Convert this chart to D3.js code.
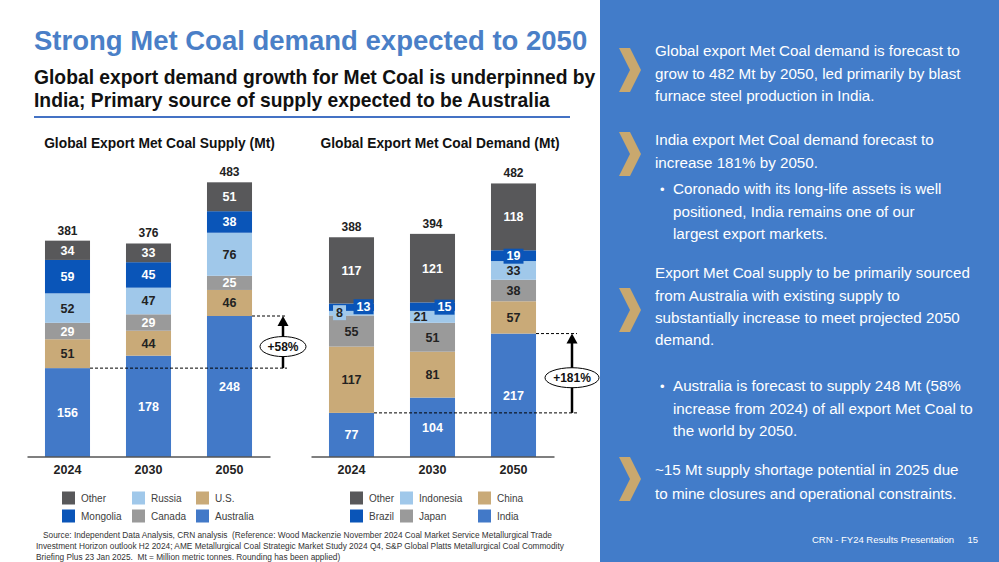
<!DOCTYPE html>
<html>
<head>
<meta charset="utf-8">
<script src="https://cdn.jsdelivr.net/npm/d3@7"></script>
<style>
  body { margin: 0; background: #fff; }
  text { font-family: "Liberation Sans", Arial, sans-serif; white-space: pre; }
</style>
</head>
<body>
<script>
// years on the x axis (both charts)
var years = ["2024", "2030", "2050"];

// supply stacks, bottom to top
var supplyKeys = ["Australia", "U.S.", "Canada", "Russia", "Mongolia", "Other"];
var supplyAustralia = [156, 178, 248];
var supplyUS = [51, 44, 46];
var supplyCanada = [29, 29, 25];
var supplyRussia = [52, 47, 76];
var supplyMongolia = [59, 45, 38];
var supplyOther = [34, 33, 51];
var supplyTotals = [381, 376, 483];

// demand stacks, bottom to top
var demandKeys = ["India", "China", "Japan", "Indonesia", "Brazil", "Other"];
var demandIndia = [77, 104, 217];
var demandChina = [117, 81, 57];
var demandJapan = [55, 51, 38];
var demandIndonesia = [8, 21, 33];
var demandBrazil = [13, 15, 19];
var demandOther = [117, 121, 118];
var demandTotals = [388, 394, 482];

var supplyGrowth = "+58%";
var demandGrowth = "+181%";

// same colour slot for both charts
var colors = ["#4279c8", "#c9aa78", "#9a9a9a", "#a0c8ea", "#0a55b8", "#58585a"];

var svgWidth = 999;
var svgHeight = 562;

var svg = d3.select("body")
  .append("svg")
  .attr("width", svgWidth)
  .attr("height", svgHeight);

// ---- header ----
svg.append("text")
  .attr("x", 34).attr("y", 50)
  .style("font-size", "27.5px").style("font-weight", "bold")
  .attr("fill", "#4a7fc7")
  .text("Strong Met Coal demand expected to 2050");

svg.append("text")
  .attr("x", 34).attr("y", 84)
  .style("font-size", "19.3px").style("font-weight", "bold")
  .attr("fill", "#111")
  .text("Global export demand growth for Met Coal is underpinned by");
svg.append("text")
  .attr("x", 34).attr("y", 107)
  .style("font-size", "19.3px").style("font-weight", "bold")
  .attr("fill", "#111")
  .text("India; Primary source of supply expected to be Australia");

svg.append("line")
  .attr("x1", 34).attr("x2", 570)
  .attr("y1", 117).attr("y2", 117)
  .attr("stroke", "#4472c4").attr("stroke-width", 2);

// shared vertical scale
var yScale = d3.scaleLinear()
  .domain([0, 500])
  .range([456.5, 456.5 - 283.25]);

// labels that sit off-centre or need a backing box
var labelTweaks = {
  "demand|Indonesia|2024": { dx: -12, dy: -1, box: true },
  "demand|Brazil|2024": { dx: 12, dy: -1, box: true },
  "demand|Indonesia|2030": { dx: -12, dy: 0, box: false },
  "demand|Brazil|2030": { dx: 12, dy: 0, box: true },
  "demand|Brazil|2050": { dx: 0, dy: 0, box: true }
};

function drawChart(opts) {
  var rows = years.map(function(y, i) {
    var r = { year: y };
    opts.keys.forEach(function(k, j) { r[k] = opts.series[j][i]; });
    return r;
  });
  var stacked = d3.stack().keys(opts.keys)(rows);

  var xScale = d3.scaleBand()
    .domain(years)
    .range(opts.range)
    .paddingInner(0.444)
    .paddingOuter(0.222);

  var g = svg.append("g");

  // chart title
  g.append("text")
    .attr("x", opts.titleX)
    .attr("y", 148)
    .attr("text-anchor", "middle")
    .style("font-size", "13.8px").style("font-weight", "bold")
    .attr("fill", "#111")
    .text(opts.title);

  var layers = g.selectAll(".layer")
    .data(stacked)
    .enter().append("g")
    .attr("fill", function(d, i) { return colors[i]; });

  layers.selectAll("rect")
    .data(function(d) { return d; })
    .enter().append("rect")
    .attr("x", function(d) { return xScale(d.data.year); })
    .attr("y", function(d) { return yScale(d[1]); })
    .attr("width", xScale.bandwidth())
    .attr("height", function(d) { return yScale(d[0]) - yScale(d[1]); });

  // segment labels
  stacked.forEach(function(layer, li) {
    layer.forEach(function(d, yi) {
      var key = opts.name + "|" + layer.key + "|" + d.data.year;
      var tw = labelTweaks[key] || { dx: 0, dy: 0, box: false };
      var cx = xScale(d.data.year) + xScale.bandwidth() / 2 + tw.dx;
      var cy = (yScale(d[0]) + yScale(d[1])) / 2 + tw.dy;
      var lg = g.append("g");
      var t = lg.append("text")
        .attr("x", cx).attr("y", cy)
        .attr("dy", "0.36em")
        .attr("text-anchor", "middle")
        .style("font-size", "12.5px").style("font-weight", "bold")
        .attr("fill", opts.labelColors[li])
        .text(d.data[layer.key]);
      if (tw.box) {
        var bb = t.node().getBBox();
        lg.insert("rect", "text")
          .attr("x", bb.x - 3).attr("y", bb.y - 0.5)
          .attr("width", bb.width + 6).attr("height", bb.height + 1)
          .attr("fill", colors[li]);
      }
    });
  });

  // totals on top
  g.selectAll(".total")
    .data(years)
    .enter().append("text")
    .attr("x", function(d) { return xScale(d) + xScale.bandwidth() / 2; })
    .attr("y", function(d, i) { return yScale(stacked[stacked.length - 1][i][1]) - 6; })
    .attr("text-anchor", "middle")
    .style("font-size", "12px").style("font-weight", "bold")
    .attr("fill", "#222")
    .text(function(d, i) { return opts.totals[i]; });

  // x axis
  var bottomAxis = d3.axisBottom(xScale).tickSize(0).tickPadding(9).tickSizeOuter(0);
  var ax = g.append("g")
    .attr("transform", "translate(0," + yScale(0) + ")")
    .call(bottomAxis);
  ax.select(".domain").attr("stroke", "#000").attr("stroke-width", 1.2);
  ax.selectAll("text")
    .style("font-family", '"Liberation Sans", Arial, sans-serif')
    .style("font-size", "12.5px").style("font-weight", "bold")
    .attr("fill", "#222");

  // growth annotation on the bottom series
  var base = opts.series[0];
  var yLow = yScale(base[0]);
  var yHigh = yScale(base[2]);
  var xA = opts.arrowX;
  g.append("line")
    .attr("x1", xScale(years[0]) + xScale.bandwidth()).attr("x2", opts.dashEnd)
    .attr("y1", yLow).attr("y2", yLow)
    .attr("stroke", "#000").attr("stroke-dasharray", "3,2");
  g.append("line")
    .attr("x1", xScale(years[2]) + xScale.bandwidth()).attr("x2", opts.dashEnd)
    .attr("y1", yHigh).attr("y2", yHigh)
    .attr("stroke", "#000").attr("stroke-dasharray", "3,2");
  g.append("line")
    .attr("x1", xA).attr("x2", xA)
    .attr("y1", yLow).attr("y2", yHigh + 9)
    .attr("stroke", "#000").attr("stroke-width", 2.5);
  g.append("path")
    .attr("d", "M" + xA + "," + yHigh + "L" + (xA - 5.5) + "," + (yHigh + 10) + "L" + (xA + 5.5) + "," + (yHigh + 10) + "Z")
    .attr("fill", "#000");
  var ey = (yLow + yHigh) / 2 + 4.5;
  g.append("ellipse")
    .attr("cx", xA).attr("cy", ey)
    .attr("rx", opts.ellipseRx).attr("ry", 10)
    .attr("fill", "#fff").attr("stroke", "#000").attr("stroke-width", 1);
  g.append("text")
    .attr("x", xA).attr("y", ey).attr("dy", "0.36em")
    .attr("text-anchor", "middle")
    .style("font-size", "12px").style("font-weight", "bold")
    .attr("fill", "#111")
    .text(opts.growth);

  // legend, 2 rows x 3 columns
  var legendOrder = [5, 3, 1, 4, 2, 0];
  legendOrder.forEach(function(si, n) {
    var col = n % 3, row = Math.floor(n / 3);
    var lx = opts.legendX[col];
    var ly = 491.5 + row * 18;
    svg.append("rect")
      .attr("x", lx).attr("y", ly)
      .attr("width", 13).attr("height", 13)
      .attr("fill", colors[si]);
    svg.append("text")
      .attr("x", lx + 19).attr("y", ly + 10.5)
      .style("font-size", "10px")
      .attr("fill", "#404040")
      .text(opts.keys[si]);
  });
}

drawChart({
  name: "supply",
  title: "Global Export Met Coal Supply (Mt)",
  titleX: 159.5,
  keys: supplyKeys,
  series: [supplyAustralia, supplyUS, supplyCanada, supplyRussia, supplyMongolia, supplyOther],
  totals: supplyTotals,
  range: [27, 270],
  labelColors: ["#fff", "#222", "#fff", "#222", "#fff", "#fff"],
  arrowX: 283,
  dashEnd: 287,
  ellipseRx: 23,
  growth: supplyGrowth,
  legendX: [62, 132, 196]
});

drawChart({
  name: "demand",
  title: "Global Export Met Coal Demand (Mt)",
  titleX: 440,
  keys: demandKeys,
  series: [demandIndia, demandChina, demandJapan, demandIndonesia, demandBrazil, demandOther],
  totals: demandTotals,
  range: [311, 554],
  labelColors: ["#fff", "#222", "#222", "#222", "#fff", "#fff"],
  arrowX: 572,
  dashEnd: 577,
  ellipseRx: 27,
  growth: demandGrowth,
  legendX: [350, 400, 478]
});

// source note
var sourceLines = [
  "Source: Independent Data Analysis, CRN analysis  (Reference: Wood Mackenzie November 2024 Coal Market Service Metallurgical Trade",
  "Investment Horizon outlook H2 2024; AME Metallurgical Coal Strategic Market Study 2024 Q4, S&P Global Platts Metallurgical Coal Commodity",
  "Briefing Plus 23 Jan 2025.  Mt = Million metric tonnes. Rounding has been applied)"
];
sourceLines.forEach(function(s, i) {
  svg.append("text")
    .attr("x", i === 0 ? 43 : 36)
    .attr("y", 538 + i * 11)
    .style("font-size", "8.3px")
    .attr("fill", "#333")
    .text(s);
});

// ---- right panel ----
svg.append("rect")
  .attr("x", 600).attr("y", 0)
  .attr("width", 399).attr("height", 562)
  .attr("fill", "#427cc9");

var chevronTops = [48, 132, 288, 457];
chevronTops.forEach(function(t) {
  var b = t + 44, m = t + 22;
  svg.append("path")
    .attr("d", "M619," + t + "L630," + t + "L641," + m + "L630," + b + "L619," + b + "L630," + m + "Z")
    .attr("fill", "#c9a86e");
});

var panelLines = [
  { x: 655, y: 56, t: "Global export Met Coal demand is forecast to" },
  { x: 655, y: 78.5, t: "grow to 482 Mt by 2050, led primarily by blast" },
  { x: 655, y: 101, t: "furnace steel production in India." },
  { x: 655, y: 145, t: "India export Met Coal demand forecast to" },
  { x: 655, y: 167.5, t: "increase 181% by 2050." },
  { x: 673, y: 194, t: "Coronado with its long-life assets is well", bullet: true },
  { x: 673, y: 216.5, t: "positioned, India remains one of our" },
  { x: 673, y: 239, t: "largest export markets." },
  { x: 655, y: 278, t: "Export Met Coal supply to be primarily sourced" },
  { x: 655, y: 300.5, t: "from Australia with existing supply to" },
  { x: 655, y: 322.5, t: "substantially increase to meet projected 2050" },
  { x: 655, y: 345, t: "demand." },
  { x: 673, y: 391, t: "Australia is forecast to supply 248 Mt (58%", bullet: true },
  { x: 673, y: 413.5, t: "increase from 2024) of all export Met Coal to" },
  { x: 673, y: 436, t: "the world by 2050." },
  { x: 655, y: 475, t: "~15 Mt supply shortage potential in 2025 due" },
  { x: 655, y: 498.5, t: "to mine closures and operational constraints." }
];
panelLines.forEach(function(l) {
  svg.append("text")
    .attr("x", l.x).attr("y", l.y)
    .style("font-size", "15.2px")
    .attr("fill", "#fff")
    .text(l.t);
  if (l.bullet) {
    svg.append("text")
      .attr("x", 660).attr("y", l.y)
      .style("font-size", "13px")
      .attr("fill", "#fff")
      .text("\u2022");
  }
});

svg.append("text")
  .attr("x", 954).attr("y", 543)
  .attr("text-anchor", "end")
  .style("font-size", "9.5px")
  .attr("fill", "#fff")
  .text("CRN - FY24 Results Presentation");
svg.append("text")
  .attr("x", 978).attr("y", 543)
  .attr("text-anchor", "end")
  .style("font-size", "9.5px")
  .attr("fill", "#fff")
  .text("15");
</script>
</body>
</html>
